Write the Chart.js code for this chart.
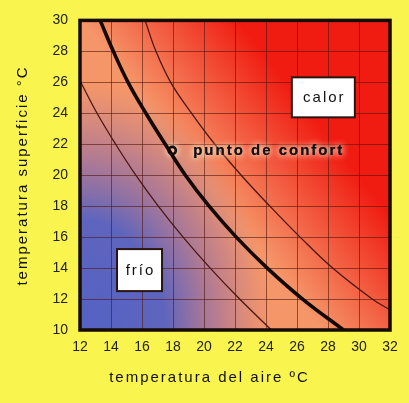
<!DOCTYPE html>
<html>
<head>
<meta charset="utf-8">
<script src="https://cdn.jsdelivr.net/npm/chart.js@4.4.0/dist/chart.umd.min.js"></script>
<style>
  html, body { margin: 0; padding: 0; background: rgb(250, 244, 78); }
  #wrap { width: 409px; height: 403px; }
</style>
</head>
<body>
<div id="wrap"><canvas id="confortChart"></canvas></div>
<script>
// ejes
const airRange = [12, 32];
const surfRange = [10, 30];
const tickStep = 2;

// curvas (temperatura del aire, temperatura superficie)
const frioAir = [12.05, 13.1, 14.3, 15.6, 17.05, 18.65, 20.4, 22.3, 24.35];
const frioSurf = [26, 24, 22, 20, 18, 16, 14, 12, 10];

const confortAir = [13.3, 14.15, 15.1, 16.25, 17.5, 18.8, 20.33, 22.08, 24.08, 26.36, 29.0];
const confortSurf = [30, 28, 26, 24, 22, 20, 18, 16, 14, 12, 10];

const calorAir = [16.2, 16.9, 17.85, 19.2, 20.7, 22.4, 24.25, 26.2, 28.3, 30.85, 32];
const calorSurf = [30, 28, 26, 24, 22, 20, 18, 16, 14, 12, 11.3];

// punto de confort
const puntoAir = [17.95];
const puntoSurf = [21.6];

const toPoints = (xs, ys) => xs.map((x, i) => ({ x: x, y: ys[i] }));

const FONT = "'Liberation Sans', Arial, sans-serif";

const fondo = {
    id: 'fondo',
    beforeDraw(chart) {
        const ctx = chart.ctx;
        const a = chart.chartArea;
        const w = a.right - a.left, h = a.bottom - a.top;
        ctx.save();
        ctx.beginPath();
        ctx.rect(a.left, a.top, w, h);
        ctx.clip();
        ctx.fillStyle = 'rgb(245, 150, 105)';
        ctx.fillRect(a.left, a.top, w, h);

        const g = ctx.createLinearGradient(a.left + w * 0.26, a.top + h * 0.61, a.left + w * 0.71, a.top + h * 0.26);
        g.addColorStop(0, 'rgba(240, 30, 20, 0)');
        g.addColorStop(0.3, 'rgba(240, 30, 20, 0)');
        g.addColorStop(1, 'rgba(240, 28, 18, 1)');
        ctx.fillStyle = g;
        ctx.fillRect(a.left, a.top, w, h);

        ctx.translate(a.left, a.bottom);
        ctx.scale(1, 1.3);
        const b = ctx.createRadialGradient(0, 0, 0, 0, 0, 190);
        b.addColorStop(0, 'rgba(84, 98, 196, 1)');
        b.addColorStop(0.45, 'rgba(86, 98, 194, 0.95)');
        b.addColorStop(0.75, 'rgba(125, 100, 178, 0.45)');
        b.addColorStop(1, 'rgba(150, 110, 170, 0)');
        ctx.fillStyle = b;
        ctx.fillRect(0, -h / 1.3, w, h / 1.3);
        ctx.restore();
    },
    afterDraw(chart) {
        const ctx = chart.ctx;
        const a = chart.chartArea;
        const xs = chart.scales.x, ys = chart.scales.y;

        ctx.save();
        ctx.lineWidth = 3.5;
        ctx.strokeStyle = '#150a05';
        ctx.strokeRect(a.left, a.top, a.right - a.left, a.bottom - a.top);

        ctx.letterSpacing = '2px';
        ctx.fillStyle = '#111';
        ctx.font = '15px ' + FONT;
        ctx.textAlign = 'center';
        ctx.textBaseline = 'middle';

        // cajas
        const caja = (text, vx, vy, bw, bh) => {
            const cx = xs.getPixelForValue(vx), cy = ys.getPixelForValue(vy);
            ctx.fillStyle = '#fff';
            ctx.fillRect(cx - bw / 2, cy - bh / 2, bw, bh);
            ctx.lineWidth = 2;
            ctx.strokeStyle = '#2a1410';
            ctx.strokeRect(cx - bw / 2, cy - bh / 2, bw, bh);
            ctx.fillStyle = '#111';
            ctx.fillText(text, cx + 1, cy + 1);
        };
        caja('calor', 27.7, 25.03, 63, 40);
        caja('frío', 15.84, 13.87, 45, 42);

        // punto de confort
        ctx.font = 'bold 15px ' + FONT;
        ctx.textAlign = 'left';
        ctx.shadowColor = 'rgba(255, 235, 205, 1)';
        ctx.shadowBlur = 7;
        const px = xs.getPixelForValue(19.3), py = ys.getPixelForValue(21.55);
        ctx.fillText('punto de confort', px, py);
        ctx.fillText('punto de confort', px, py);
        ctx.shadowBlur = 0;

        // títulos
        ctx.font = '15px ' + FONT;
        ctx.textAlign = 'center';
        ctx.fillText('temperatura del aire ºC', 209.5, 378);
        ctx.translate(23, 176.5);
        ctx.rotate(-Math.PI / 2);
        ctx.fillText('temperatura superficie °C', 1, 0);
        ctx.restore();
    },
    beforeDatasetDraw(chart, args) {
        if (args.index === 3) {
            chart.ctx.save();
            chart.ctx.shadowColor = 'rgba(255, 235, 205, 1)';
            chart.ctx.shadowBlur = 6;
        }
    },
    afterDatasetDraw(chart, args) {
        if (args.index === 3) chart.ctx.restore();
    }
};

new Chart(document.getElementById('confortChart'), {
    type: 'line',
    data: {
        datasets: [{
            data: toPoints(frioAir, frioSurf),
            borderColor: '#4a1810',
            borderWidth: 1.3
        }, {
            data: toPoints(confortAir, confortSurf),
            borderColor: '#140805',
            borderWidth: 3.6
        }, {
            data: toPoints(calorAir, calorSurf),
            borderColor: '#4a1810',
            borderWidth: 1.3
        }, {
            data: toPoints(puntoAir, puntoSurf),
            showLine: false,
            pointRadius: 3.6,
            pointBorderWidth: 2.6,
            pointBorderColor: '#111',
            pointBackgroundColor: 'rgb(245, 140, 100)'
        }]
    },
    options: {
        responsive: true,
        maintainAspectRatio: false,
        animation: false,
        layout: { padding: { top: 20, right: 19, left: 0, bottom: 0 } },
        elements: {
            point: { radius: 0 },
            line: { tension: 0.4, fill: false }
        },
        plugins: {
            legend: { display: false },
            tooltip: { enabled: false }
        },
        scales: {
            x: {
                type: 'linear',
                min: airRange[0],
                max: airRange[1],
                afterFit: s => { s.height = 73; },
                ticks: { stepSize: tickStep, padding: 9, color: '#222', font: { family: FONT, size: 14 } },
                grid: { color: 'rgba(80, 22, 12, 0.6)', lineWidth: 1, drawTicks: false },
                border: { display: false }
            },
            y: {
                type: 'linear',
                min: surfRange[0],
                max: surfRange[1],
                afterFit: s => { s.width = 80; },
                ticks: { stepSize: tickStep, padding: 12, color: '#222', font: { family: FONT, size: 14 } },
                grid: { color: 'rgba(80, 22, 12, 0.6)', lineWidth: 1, drawTicks: false },
                border: { display: false }
            }
        }
    },
    plugins: [fondo]
});
</script>
</body>
</html>
